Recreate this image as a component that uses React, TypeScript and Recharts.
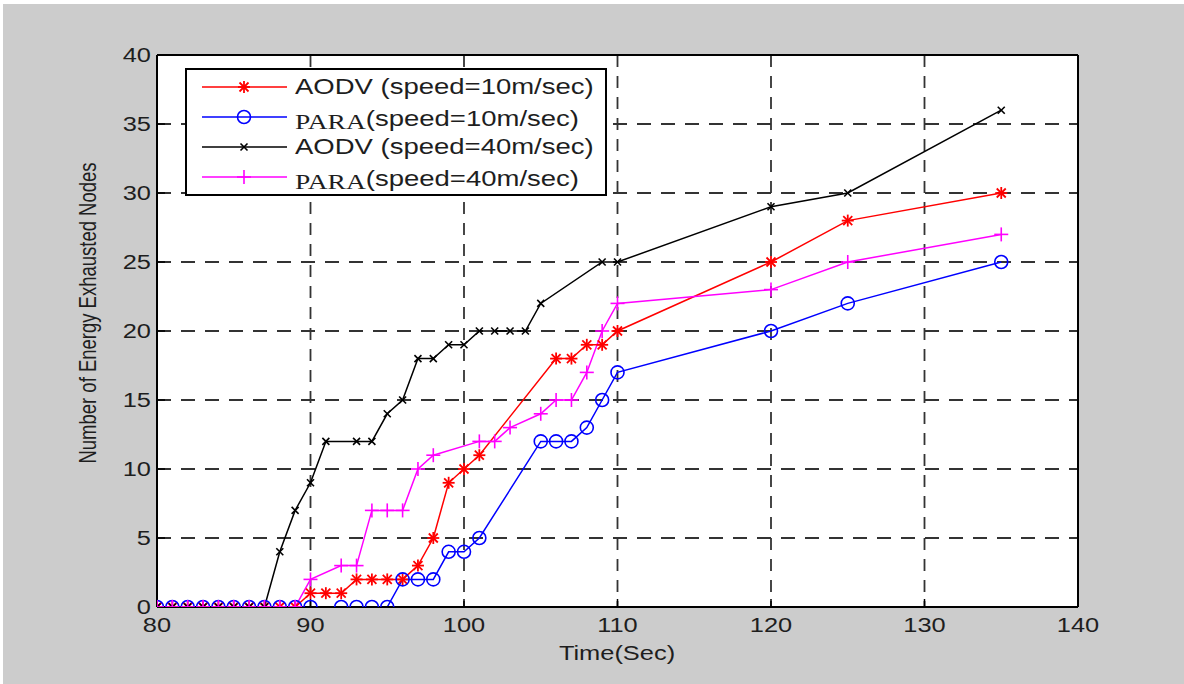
import { LineChart, Line, XAxis, YAxis, CartesianGrid, Legend } from "recharts";

const xTicks = [80, 90, 100, 110, 120, 130, 140];
const yTicks = [0, 5, 10, 15, 20, 25, 30, 35, 40];

const aodv10Time = [80, 81, 82, 83, 84, 85, 86, 87, 88, 89, 90, 91, 92, 93, 94, 95, 96, 97, 98, 99, 100, 101, 106, 107, 108, 109, 110, 120, 125, 135];
const aodv10Nodes = [0, 0, 0, 0, 0, 0, 0, 0, 0, 0, 1, 1, 1, 2, 2, 2, 2, 3, 5, 9, 10, 11, 18, 18, 19, 19, 20, 25, 28, 30];

const para10Time = [80, 81, 82, 83, 84, 85, 86, 87, 88, 89, 90, 92, 93, 94, 95, 96, 97, 98, 99, 100, 101, 105, 106, 107, 108, 109, 110, 120, 125, 135];
const para10Nodes = [0, 0, 0, 0, 0, 0, 0, 0, 0, 0, 0, 0, 0, 0, 0, 2, 2, 2, 4, 4, 5, 12, 12, 12, 13, 15, 17, 20, 22, 25];

const aodv40Time = [80, 81, 82, 83, 84, 85, 86, 87, 88, 89, 90, 91, 93, 94, 95, 96, 97, 98, 99, 100, 101, 102, 103, 104, 105, 109, 110, 120, 125, 135];
const aodv40Nodes = [0, 0, 0, 0, 0, 0, 0, 0, 4, 7, 9, 12, 12, 12, 14, 15, 18, 18, 19, 19, 20, 20, 20, 20, 22, 25, 25, 29, 30, 36];

const para40Time = [80, 81, 82, 83, 84, 85, 86, 87, 88, 89, 90, 92, 93, 94, 95, 96, 97, 98, 101, 102, 103, 105, 106, 107, 108, 109, 110, 120, 125, 135];
const para40Nodes = [0, 0, 0, 0, 0, 0, 0, 0, 0, 0, 2, 3, 3, 7, 7, 7, 10, 11, 12, 12, 13, 14, 15, 15, 17, 20, 22, 23, 25, 27];

const toPoints = (t: number[], n: number[]) => t.map((x, i) => ({ x, y: n[i] }));

const SANS = "'Liberation Sans', Arial, sans-serif";
const SERIF = "'Liberation Serif', 'Times New Roman', serif";
const TEXT = "#1e1e1e";
const STRETCH = 1.27;

type MarkProps = { cx: number; cy: number; color: string };

const StarMark = ({ cx, cy, color }: MarkProps) => (
  <g stroke={color} strokeWidth={1.8}>
    <line x1={cx - 6} y1={cy} x2={cx + 6} y2={cy} />
    <line x1={cx} y1={cy - 6} x2={cx} y2={cy + 6} />
    <line x1={cx - 4.5} y1={cy - 4.5} x2={cx + 4.5} y2={cy + 4.5} />
    <line x1={cx - 4.5} y1={cy + 4.5} x2={cx + 4.5} y2={cy - 4.5} />
  </g>
);

const CircleMark = ({ cx, cy, color }: MarkProps) => (
  <circle cx={cx} cy={cy} r={6.5} fill="none" stroke={color} strokeWidth={1.6} />
);

const CrossMark = ({ cx, cy, color }: MarkProps) => (
  <g stroke={color} strokeWidth={1.6}>
    <line x1={cx - 3.5} y1={cy - 3.5} x2={cx + 3.5} y2={cy + 3.5} />
    <line x1={cx - 3.5} y1={cy + 3.5} x2={cx + 3.5} y2={cy - 3.5} />
  </g>
);

const PlusMark = ({ cx, cy, color }: MarkProps) => (
  <g stroke={color} strokeWidth={1.6}>
    <line x1={cx - 7} y1={cy} x2={cx + 7} y2={cy} />
    <line x1={cx} y1={cy - 7} x2={cx} y2={cy + 7} />
  </g>
);

const series = [
  { id: "aodv10", proto: "AODV", label: " (speed=10m/sec)", color: "#ff0000", Mark: StarMark, data: toPoints(aodv10Time, aodv10Nodes) },
  { id: "para10", proto: "PARA", label: "(speed=10m/sec)", color: "#0000ff", Mark: CircleMark, data: toPoints(para10Time, para10Nodes) },
  { id: "aodv40", proto: "AODV", label: " (speed=40m/sec)", color: "#000000", Mark: CrossMark, data: toPoints(aodv40Time, aodv40Nodes) },
  { id: "para40", proto: "PARA", label: "(speed=40m/sec)", color: "#ff00ff", Mark: PlusMark, data: toPoints(para40Time, para40Nodes) },
];

const XTick = ({ x, y, payload }: any) => (
  <text
    transform={`translate(${x},${y}) scale(${STRETCH},1)`}
    textAnchor="middle"
    dy="0.71em"
    fontSize={20}
    fontFamily={SANS}
    fill={TEXT}
  >
    {payload.value}
  </text>
);

const YTick = ({ x, y, payload }: any) => (
  <text
    transform={`translate(${x},${y}) scale(${STRETCH},1)`}
    textAnchor="end"
    dy="0.36em"
    fontSize={20}
    fontFamily={SANS}
    fill={TEXT}
  >
    {payload.value}
  </text>
);

const LegendBox = () => (
  <svg width={422} height={128} style={{ display: "block" }}>
    <rect x={1} y={1} width={420} height={126} fill="#fff" stroke="#000" strokeWidth={2} />
    {series.map((s, i) => {
      const y = 19 + i * 30;
      const isPara = s.proto === "PARA";
      return (
        <g key={s.id}>
          <line x1={17} y1={y} x2={102} y2={y} stroke={s.color} strokeWidth={1.6} />
          <s.Mark cx={59} cy={y} color={s.color} />
          <g transform={`translate(110,${y + (isPara ? 12 : 7)}) scale(1.25,1)`}>
            <text fontSize={22} fill={TEXT}>
              <tspan fontFamily={isPara ? SERIF : SANS}>{s.proto}</tspan>
              <tspan fontFamily={SANS} dy={isPara ? -3 : 0}>{s.label}</tspan>
            </text>
          </g>
        </g>
      );
    })}
  </svg>
);

export default function App() {
  return (
    <div style={{ position: "relative", width: 1184, height: 684, background: "#fff" }}>
      <style>{"body{margin:0}"}</style>
      <div style={{ position: "absolute", left: 3, top: 4, width: 1181, height: 680, background: "#cccccc" }} />
      <div style={{ position: "absolute", left: 0, top: 0 }}>
        <LineChart width={1184} height={684} margin={{ top: 54, right: 105, bottom: 37, left: 97 }}>
          <CartesianGrid fill="#fff" vertical={false} stroke="#333" strokeWidth={1.8} strokeDasharray="14 10" horizontalValues={yTicks} />
          <CartesianGrid vertical horizontal={false} stroke="#333" strokeWidth={1.8} strokeDasharray="12 9" verticalValues={xTicks} />
          <XAxis
            dataKey="x"
            type="number"
            domain={[80, 140]}
            ticks={xTicks}
            allowDataOverflow
            height={40}
            tickSize={-8}
            tickMargin={19}
            tick={<XTick />}
            axisLine={{ stroke: "#000", strokeWidth: 2 }}
            tickLine={{ stroke: "#000", strokeWidth: 1.5 }}
          />
          <XAxis
            xAxisId="top"
            orientation="top"
            dataKey="x"
            type="number"
            domain={[80, 140]}
            ticks={xTicks}
            allowDataOverflow
            height={1}
            tickSize={-8}
            tick={false}
            axisLine={{ stroke: "#000", strokeWidth: 2 }}
            tickLine={{ stroke: "#000", strokeWidth: 1.5 }}
          />
          <YAxis
            type="number"
            domain={[0, 40]}
            ticks={yTicks}
            allowDataOverflow
            width={60}
            tickSize={-8}
            tickMargin={14}
            tick={<YTick />}
            axisLine={{ stroke: "#000", strokeWidth: 2 }}
            tickLine={{ stroke: "#000", strokeWidth: 1.5 }}
          />
          <YAxis
            yAxisId="right"
            orientation="right"
            type="number"
            domain={[0, 40]}
            ticks={yTicks}
            allowDataOverflow
            width={1}
            tickSize={-8}
            tick={false}
            axisLine={{ stroke: "#000", strokeWidth: 2 }}
            tickLine={{ stroke: "#000", strokeWidth: 1.5 }}
          />
          {series.map((s) => (
            <Line
              key={s.id}
              data={s.data}
              dataKey="y"
              name={s.proto + s.label}
              type="linear"
              stroke={s.color}
              strokeWidth={1.5}
              isAnimationActive={false}
              activeDot={false}
              dot={(p: any) => <s.Mark key={`${s.id}-${p.index}`} cx={p.cx} cy={p.cy} color={s.color} />}
            />
          ))}
          <text
            transform={`translate(617,660) scale(${STRETCH},1)`}
            textAnchor="middle"
            fontSize={20}
            fontFamily={SANS}
            fill={TEXT}
          >
            Time(Sec)
          </text>
          <text
            transform={`translate(96,313) rotate(-90) scale(1,${STRETCH})`}
            textAnchor="middle"
            fontSize={18.5}
            fontFamily={SANS}
            fill={TEXT}
          >
            Number of Energy Exhausted Nodes
          </text>
          <Legend
            layout="horizontal"
            verticalAlign="middle"
            align="center"
            wrapperStyle={{ left: 185, top: 68, width: 422, height: 128 }}
            content={() => <LegendBox />}
          />
        </LineChart>
      </div>
    </div>
  );
}
